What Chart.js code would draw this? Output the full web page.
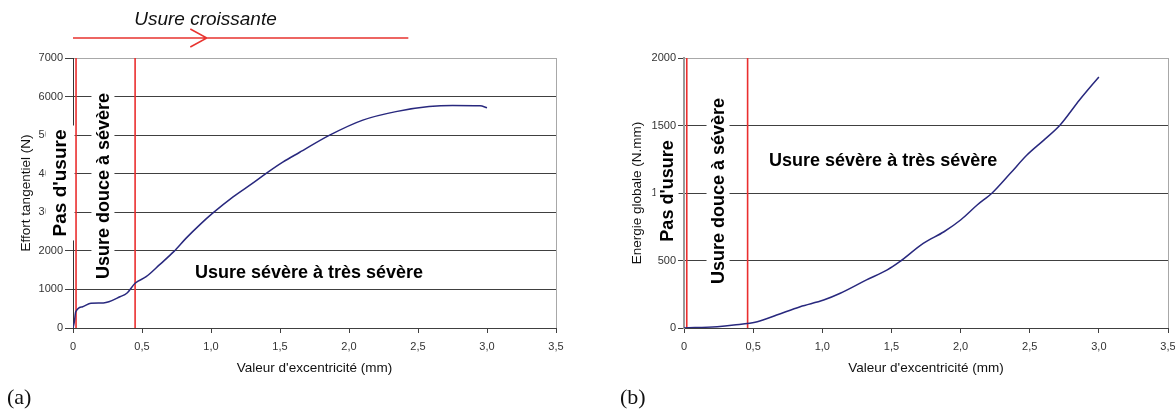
<!DOCTYPE html>
<html>
<head>
<meta charset="utf-8">
<script src="https://cdn.jsdelivr.net/npm/chart.js@4.4.1/dist/chart.umd.min.js"></script>
<style>
  html, body { margin: 0; padding: 0; background: #fff; overflow: hidden; }
  body { width: 1175px; height: 409px; position: relative; }
  .box { position: absolute; top: 0; height: 409px; }
  #boxA { left: 0; width: 587px; }
  #boxB { left: 587px; width: 600px; }
  .tag { position: absolute; top: 384px; font: 22px "Liberation Serif", "Times New Roman", serif; color: #111; }
</style>
</head>
<body>
<div class="box" id="boxA"><canvas id="chartA"></canvas></div>
<div class="box" id="boxB"><canvas id="chartB"></canvas></div>
<div class="tag" style="left:7px">(a)</div>
<div class="tag" style="left:620px">(b)</div>

<script>
// axis ticks
var xTickLabels = ['0', '0,5', '1,0', '1,5', '2,0', '2,5', '3,0', '3,5'];

// (a) effort tangentiel vs excentricite
var excA = [0, 0.01, 0.02, 0.07, 0.13, 0.22, 0.26, 0.34, 0.39, 0.45, 0.53, 0.63, 0.73, 0.82, 0.92, 1.01, 1.16, 1.30, 1.40, 1.52, 1.64, 1.86, 2.10, 2.34, 2.58, 2.75, 2.95, 3.0];
var effort = [0, 165, 420, 550, 640, 650, 680, 810, 900, 1160, 1330, 1650, 1980, 2330, 2680, 2970, 3400, 3750, 4010, 4300, 4550, 5000, 5390, 5610, 5740, 5770, 5760, 5710];
var seuilsA = [0.022, 0.45];

// (b) energie globale vs excentricite
var excB = [0, 0.24, 0.36, 0.53, 0.67, 0.84, 1.01, 1.13, 1.32, 1.47, 1.56, 1.73, 1.88, 2.0, 2.12, 2.23, 2.36, 2.48, 2.6, 2.72, 2.86, 3.0];
var energie = [0, 10, 22, 47, 96, 158, 207, 257, 356, 430, 491, 627, 713, 800, 911, 1002, 1146, 1281, 1390, 1504, 1689, 1860];
var seuilsB = [0.02, 0.46];

var FONT = '"Liberation Sans", Arial, sans-serif';

// text boxes drawn on white, under the curves
var annot = {
  id: 'annot',
  beforeDatasetsDraw: function(chart, args, o) {
    var ctx = chart.ctx, xs = chart.scales.x, ys = chart.scales.y;
    (o.labels || []).forEach(function(l) {
      var pad = l.pad || 5;
      ctx.save();
      ctx.font = 'bold ' + l.size + 'px ' + FONT;
      ctx.translate(xs.getPixelForValue(l.x), ys.getPixelForValue(l.y));
      if (l.rotate) ctx.rotate(-Math.PI / 2);
      var w = ctx.measureText(l.text).width;
      ctx.fillStyle = '#fff';
      ctx.fillRect(-w / 2 - 4, -(l.size + pad) / 2, w + 8, l.size + pad);
      ctx.fillStyle = '#000';
      ctx.textAlign = 'center';
      ctx.textBaseline = 'middle';
      ctx.fillText(l.text, 0, 1);
      ctx.restore();
    });
  },
  afterDraw: function(chart, args, o) {
    if (!o.arrow) return;
    var ctx = chart.ctx, xs = chart.scales.x, top = chart.chartArea.top;
    var a = o.arrow, y = top - 20;
    ctx.save();
    ctx.strokeStyle = '#e8332f';
    ctx.lineWidth = 1.5;
    ctx.beginPath();
    ctx.moveTo(xs.getPixelForValue(a.from), y);
    ctx.lineTo(xs.getPixelForValue(a.to), y);
    ctx.moveTo(xs.getPixelForValue(a.head - 0.12), y - 9);
    ctx.lineTo(xs.getPixelForValue(a.head), y);
    ctx.lineTo(xs.getPixelForValue(a.head - 0.12), y + 9);
    ctx.stroke();
    ctx.font = 'italic 19px ' + FONT;
    ctx.fillStyle = '#111';
    ctx.textAlign = 'center';
    ctx.textBaseline = 'middle';
    ctx.fillText(a.text, xs.getPixelForValue(a.textX), top - 38);
    ctx.restore();
  }
};

function points(xs, ys) {
  return xs.map(function(x, i) { return {x: x, y: ys[i]}; });
}

function makeChart(id, c) {
  var datasets = [{
    data: points(c.x, c.y),
    borderColor: '#28287e',
    borderWidth: 1.5,
    pointRadius: 0,
    showLine: true,
    cubicInterpolationMode: 'monotone'
  }];
  c.seuils.forEach(function(s) {
    datasets.push({
      data: [{x: s, y: 0}, {x: s, y: c.max}],
      borderColor: '#ea2e2e',
      borderWidth: 1.6,
      pointRadius: 0,
      showLine: true
    });
  });

  return new Chart(document.getElementById(id), {
    type: 'scatter',
    data: { datasets: datasets },
    plugins: [annot],
    options: {
      responsive: true,
      maintainAspectRatio: false,
      animation: false,
      events: [],
      layout: { padding: { left: 0, top: 58, right: c.padRight, bottom: 31 } },
      plugins: {
        legend: { display: false },
        tooltip: { enabled: false },
        annot: { labels: c.labels, arrow: c.arrow }
      },
      scales: {
        x: {
          type: 'linear', min: 0, max: 3.5,
          afterFit: function(s) { s.height = 50; },
          afterBuildTicks: function(s) {
            s.ticks = xTickLabels.map(function(t, i) { return {value: i * 0.5}; });
          },
          border: { color: '#404040', width: 1 },
          grid: {
            color: function(ctx) { return ctx.tick && ctx.tick.value === 3.5 ? '#a8a8a8' : 'rgba(0,0,0,0)'; },
            tickColor: '#404040', tickLength: 5
          },
          ticks: {
            autoSkip: false, maxRotation: 0, padding: 7, color: '#333',
            font: { family: FONT, size: 11 },
            callback: function(v, i) { return xTickLabels[i]; }
          },
          title: {
            display: true, text: "Valeur d'excentricité (mm)", color: '#111',
            font: { family: FONT, size: 13.5 }, padding: { top: 2, bottom: 2 }
          }
        },
        y: {
          min: 0, max: c.max,
          afterFit: function(s) { s.width = c.yWidth; },
          border: { color: c.axisColor, width: c.axisWidth },
          grid: {
            color: function(ctx) { return ctx.tick && ctx.tick.value === c.max ? '#a8a8a8' : '#404040'; },
            tickColor: '#404040', tickLength: c.tickLen
          },
          ticks: {
            stepSize: c.step, padding: 2, color: '#333',
            font: { family: FONT, size: 11 },
            callback: function(v) { return String(v); }
          },
          title: {
            display: true, text: c.yTitle, color: '#111',
            font: { family: FONT, size: 13.5 }, padding: { top: c.titleOff, bottom: 0 }
          }
        }
      }
    }
  });
}

makeChart('chartA', {
  x: excA, y: effort, seuils: seuilsA, max: 7000, step: 1000,
  yTitle: 'Effort tangentiel (N)', yWidth: 73, padRight: 31, titleOff: 18,
  axisColor: '#333', axisWidth: 1, tickLen: 8,
  labels: [
    {text: "Pas d'usure", x: -0.094, y: 3760, size: 19, rotate: true, pad: 10},
    {text: 'Usure douce à sévère', x: 0.217, y: 3680, size: 18, rotate: true},
    {text: 'Usure sévère à très sévère', x: 1.71, y: 1450, size: 18}
  ],
  arrow: {from: 0, to: 2.43, head: 0.97, textX: 0.96, text: 'Usure croissante'}
});

makeChart('chartB', {
  x: excB, y: energie, seuils: seuilsB, max: 2000, step: 500,
  yTitle: 'Energie globale (N.mm)', yWidth: 97, padRight: 19, titleOff: 42,
  axisColor: '#999', axisWidth: 2, tickLen: 6,
  labels: [
    {text: "Pas d'usure", x: -0.123, y: 1015, size: 18, rotate: true},
    {text: 'Usure douce à sévère', x: 0.246, y: 1015, size: 18, rotate: true},
    {text: 'Usure sévère à très sévère', x: 1.44, y: 1244, size: 18}
  ]
});
</script>
</body>
</html>
